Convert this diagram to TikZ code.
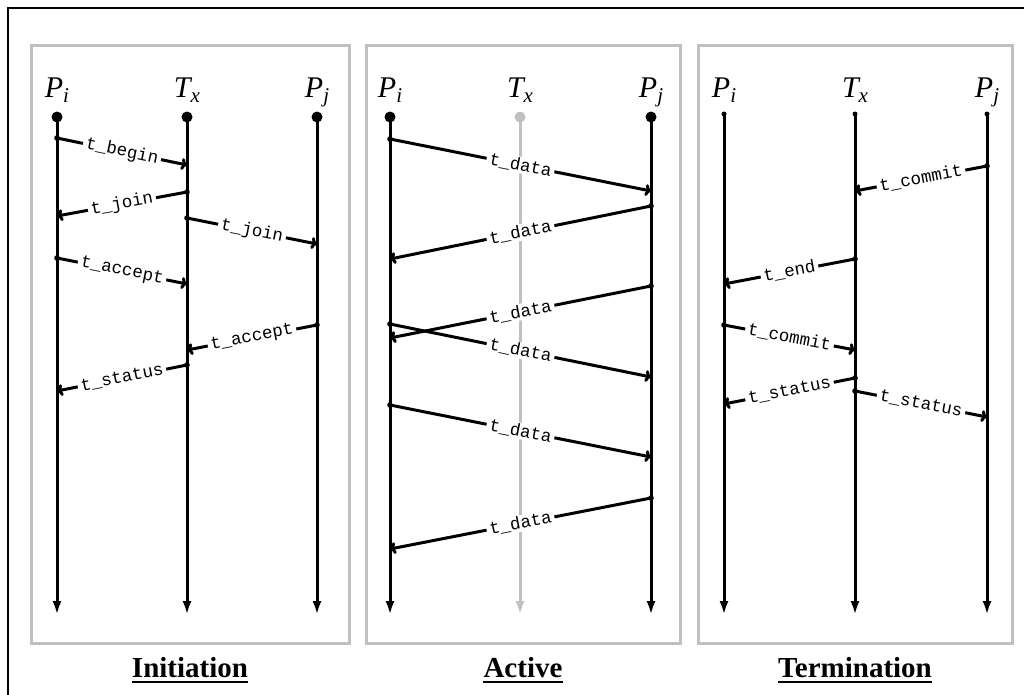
\documentclass[tikz,border=0pt]{standalone}
\usepackage{fontspec}
\setmainfont{Liberation Serif}
\setmonofont{Liberation Mono}
\usetikzlibrary{arrows.meta}
\definecolor{panelgray}{RGB}{192,192,192}
\newcommand\msgline[5]{%
  \fill (#1 |- 0,#2) circle (2.8pt);
  \draw[msg] (#1 |- 0,#2) -- node[lbl]{#5} (#3 |- 0,#4);}
\newcommand\lname[2]{{\itshape #1}\raisebox{-5pt}{\fontsize{21}{21}\selectfont\itshape #2}}
\begin{document}
\begin{tikzpicture}[x=1pt,y=-1pt,
  panel/.style={draw=panelgray, line width=3pt},
  life/.style={line width=3pt, -{Latex[length=14pt,width=9pt]}},
  msg/.style={line width=3pt, -{To[length=6pt,width=12pt]}},
  lbl/.style={fill=white, inner xsep=3pt, inner ysep=1pt, font=\fontsize{17.5}{19}\selectfont\ttfamily, sloped, midway},
  head/.style={font=\fontsize{30}{32}\selectfont, anchor=base, inner sep=0pt},
  ttl/.style={font=\fontsize{29}{32}\selectfont\bfseries, anchor=base, inner sep=0pt},
  uline/.style={line width=2.5pt}]
\useasboundingbox (0,0) rectangle (1024,694);
\fill[white] (0,0) rectangle (1024,694);
\begin{scope}
  \clip (0,0) rectangle (1024,694);
  \draw[line width=2.5pt] (8,720) -- (8,8) -- (1040,8);
\end{scope}
% panels
\draw[panel] (31,45) rectangle (349,643);
\draw[panel] (366,45) rectangle (680,643);
\draw[panel] (698,45) rectangle (1012,643);
% lifeline coordinates
\foreach \n/\x/\y in {a1/57/117, b1/187/117, c1/317/117, a2/390/117, b2/520/117, c2/651/117, a3/724/114, b3/855/114, c3/987/114} {
  \coordinate (\n t) at (\x,\y);
  \coordinate (\n b) at (\x,615);
}
% headers
\node[head] (ha1) at (57,97) {\lname{P}{i}};
\node[head] (hb1) at (187,97) {\lname{T}{x}};
\node[head] (hc1) at (317,97) {\lname{P}{j}};
\node[head] (ha2) at (390,97) {\lname{P}{i}};
\node[head] (hb2) at (520,97) {\lname{T}{x}};
\node[head] (hc2) at (651,97) {\lname{P}{j}};
\node[head] (ha3) at (724,97) {\lname{P}{i}};
\node[head] (hb3) at (855,97) {\lname{T}{x}};
\node[head] (hc3) at (987,97) {\lname{P}{j}};
% lifelines
\foreach \n in {a1,b1,c1,a2,c2} {
  \draw[life] (\n t) -- (\n b);
  \fill (\n t) circle (5.5pt);
}
\draw[life, panelgray] (b2t) -- (b2b);
\fill[panelgray] (b2t) circle (5.5pt);
\foreach \n in {a3,b3,c3} {
  \draw[life] (\n t) -- (\n b);
  \fill (\n t) circle (2.5pt);
}
% panel 1 messages
\msgline{a1t}{138}{b1t}{165}{t\_begin}
\msgline{b1t}{192}{a1t}{216}{t\_join}
\msgline{b1t}{218}{c1t}{244}{t\_join}
\msgline{a1t}{258}{b1t}{284}{t\_accept}
\msgline{c1t}{325}{b1t}{350}{t\_accept}
\msgline{b1t}{365}{a1t}{391}{t\_status}
% panel 2 messages
\msgline{a2t}{139}{c2t}{191}{t\_data}
\msgline{c2t}{206}{a2t}{259}{t\_data}
\msgline{c2t}{286}{a2t}{338}{t\_data}
\msgline{a2t}{324}{c2t}{377}{t\_data}
\msgline{a2t}{405}{c2t}{457}{t\_data}
\msgline{c2t}{498}{a2t}{549}{t\_data}
% panel 3 messages
\msgline{c3t}{166}{b3t}{191}{t\_commit}
\msgline{b3t}{259}{a3t}{284}{t\_end}
\msgline{a3t}{325}{b3t}{350}{t\_commit}
\msgline{b3t}{378}{a3t}{404}{t\_status}
\msgline{b3t}{391}{c3t}{417}{t\_status}
% titles
\node[ttl] (t1) at (190,677) {Initiation};
\node[ttl] (t2) at (523,677) {Active};
\node[ttl] (t3) at (855,677) {Termination};
\foreach \t in {t1,t2,t3}
  \draw[uline] ([yshift=-5pt]\t.base west) -- ([yshift=-5pt]\t.base east);
\end{tikzpicture}
\end{document}
